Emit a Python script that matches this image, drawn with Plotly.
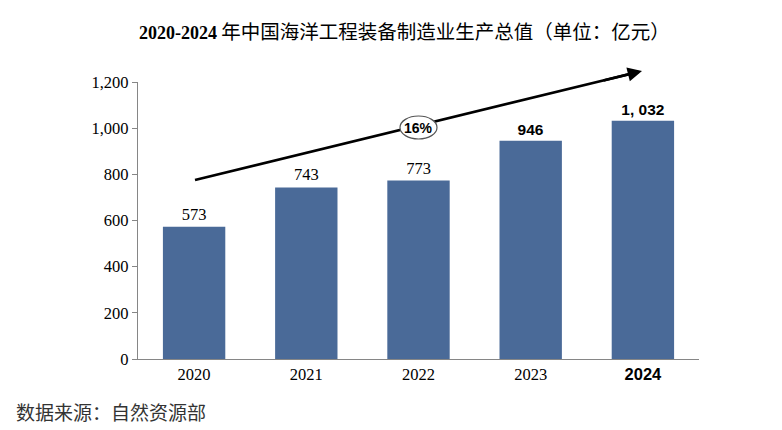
import plotly.graph_objects as go

years = ["2020", "2021", "2022", "2023", "2024"]
values = [573, 743, 773, 946, 1032]
value_labels = ["573", "743", "773", "946", "1, 032"]
year_ticks = ["2020", "2021", "2022", "2023",
              "<span style='font-family:Liberation Sans'><b>2024</b></span>"]
y_ticks = [0, 200, 400, 600, 800, 1000, 1200]
y_tick_labels = ["0", "200", "400", "600", "800", "1,000", "1,200"]
growth_label = "16%"

SERIF = "Liberation Serif, Times New Roman, serif"
SANS = "Liberation Sans, Arial, sans-serif"
CJK = "Noto Sans CJK SC, sans-serif"

bold_flags = [False, False, False, True, True]


def px(xpix):
    return (xpix - 138) / 561


def py(ypix):
    return (359 - ypix) / 277


fig = go.Figure(go.Bar(
    x=years, y=values,
    marker=dict(color="#4A6A98", line=dict(width=0)),
    text=value_labels,
    textposition="outside",
    cliponaxis=False,
    textfont=dict(
        family=[SANS if b else SERIF for b in bold_flags],
        size=[15.5 if b else 16.5 for b in bold_flags],
        weight=["bold" if b else "normal" for b in bold_flags],
        color="#000000",
    ),
))

fig.update_layout(
    width=782, height=430,
    margin=dict(l=130, r=91, t=74, b=79),
    paper_bgcolor="white", plot_bgcolor="white",
    bargap=0.444,
    showlegend=False,
)
fig.update_xaxes(
    type="category", tickvals=years, ticktext=year_ticks,
    showline=True, linecolor="#868686", linewidth=1.2,
    ticks="", showgrid=False,
    tickfont=dict(family=SERIF, size=16.5, color="#000000"),
)
fig.update_yaxes(
    range=[0, 1200], tickvals=y_ticks, ticktext=y_tick_labels,
    showline=True, linecolor="#868686", linewidth=1.2,
    ticks="outside", ticklen=5, tickcolor="#868686",
    showgrid=False, zeroline=False,
    tickfont=dict(family=SERIF, size=16.5, color="#000000"),
)

# trend line (shape) + arrowhead (annotation)
tail = (195, 180)
head = (642, 71)
fig.add_shape(
    type="line", xref="paper", yref="paper",
    x0=px(tail[0]), y0=py(tail[1]), x1=px(head[0] - 8), y1=py(head[1] + 8 * 109 / 447),
    line=dict(color="#000000", width=2.6), layer="above",
)
fig.add_annotation(
    xref="paper", yref="paper", x=px(head[0]), y=py(head[1]),
    ax=-40, ay=40 * 109 / 447, axref="pixel", ayref="pixel",
    showarrow=True, arrowhead=2, arrowsize=1.1, arrowwidth=2.6,
    arrowcolor="#000000", text="",
)
# ellipse with growth rate (drawn after the line so it covers it)
fig.add_shape(
    type="circle", xref="paper", yref="paper",
    x0=px(400), x1=px(437), y0=py(139), y1=py(116),
    fillcolor="white", line=dict(color="#555555", width=1.2), layer="above",
)
fig.add_annotation(
    xref="paper", yref="paper", x=px(418.5), y=py(127.5),
    xanchor="center", yanchor="middle",
    text="<b>" + growth_label + "</b>", showarrow=False,
    font=dict(family=SANS, size=14, color="#000000"),
)

# title
fig.add_annotation(
    xref="paper", yref="paper", x=px(404), y=py(30),
    yanchor="middle", xanchor="center", showarrow=False,
    text="<span style='font-family:Liberation Serif;font-size:18px'><b>2020-2024</b></span> 年中国海洋工程装备制造业生产总值（单位：亿元）",
    font=dict(family=CJK, size=19.5, color="#000000"),
)
# source
fig.add_annotation(
    xref="paper", yref="paper", x=px(14), y=py(411),
    xanchor="left", yanchor="middle", showarrow=False,
    text="数据来源：自然资源部",
    font=dict(family=CJK, size=19, color="#333333"),
)

fig.write_html("out.html")
